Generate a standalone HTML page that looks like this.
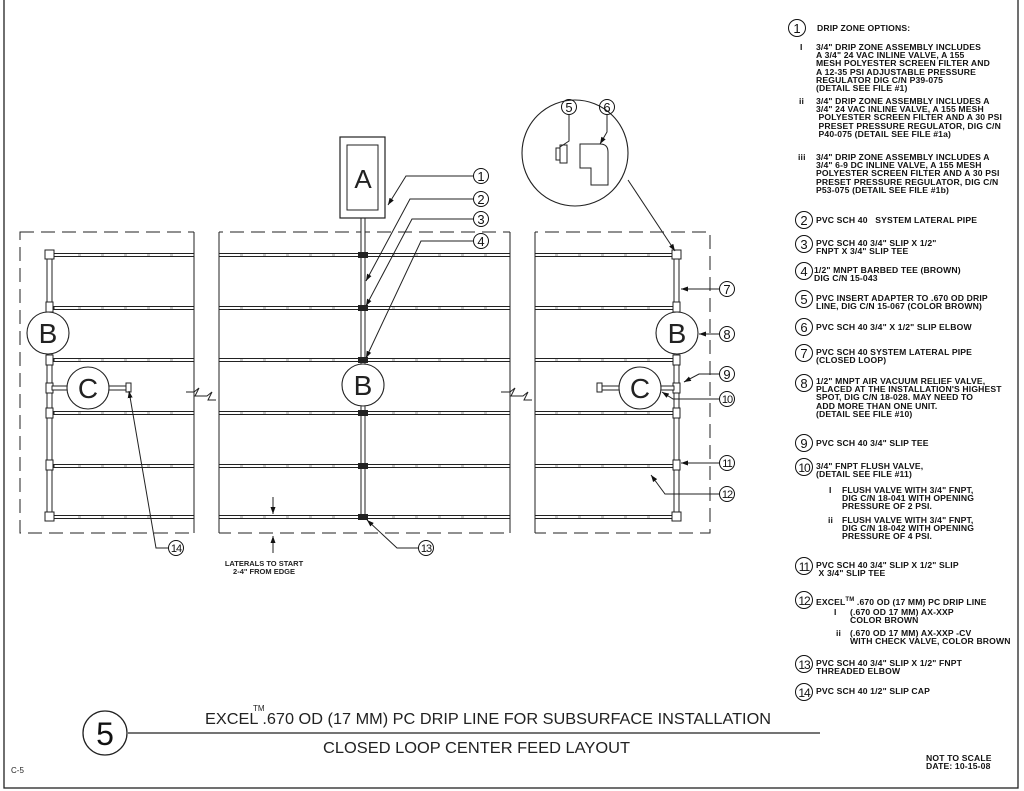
<!DOCTYPE html>
<html><head><meta charset="utf-8"><style>
body{margin:0;background:#fff;}
#w{position:relative;width:1024px;height:791px;overflow:hidden;background:#fff;font-family:"Liberation Sans",sans-serif;color:#111;}
.t{position:absolute;font-size:8.6px;line-height:8.2px;white-space:pre;font-weight:bold;letter-spacing:0.15px;transform:scaleX(1.0);transform-origin:0 0;}
.c{position:absolute;width:16px;height:16px;border:1.2px solid #111;border-radius:50%;font-size:13px;line-height:16px;text-align:center;box-sizing:border-box;}
.c2{font-size:11px;letter-spacing:-1px;}
</style></head><body><div id="w">
<svg width="1024" height="791" style="position:absolute;left:0;top:0" font-family="Liberation Sans, sans-serif">
<defs><marker id="ar" markerWidth="8" markerHeight="6" refX="7" refY="3" orient="auto" markerUnits="userSpaceOnUse"><path d="M0,0.5 L7,3 L0,5.5z" fill="#111"/></marker></defs>
<g stroke="#222" fill="none" stroke-width="1">
<rect x="4" y="-5" width="1014" height="793" stroke-width="1.3"/>
<rect x="20" y="232" width="690" height="301" stroke-dasharray="14,7"/>
<g id="lat" fill="#fff">
<rect x="54" y="253.5" width="620" height="3"/><rect x="54" y="306.5" width="620" height="3"/><rect x="54" y="358.5" width="620" height="3"/>
<rect x="54" y="411.5" width="620" height="3"/><rect x="54" y="464.5" width="620" height="3"/><rect x="54" y="515.5" width="620" height="3"/>
</g>
<rect x="47" y="253" width="5" height="266" fill="#fff"/>
<rect x="674" y="253" width="5" height="266" fill="#fff"/>
<rect x="361" y="218" width="4" height="300" fill="#fff"/>
</g>
<g fill="#fff" stroke="#777" stroke-width="0.7">
<path id="em" d="M78,255 h3 M101,255 h3 M124,255 h3 M147,255 h3 M170,255 h3 M240,255 h3 M263,255 h3 M286,255 h3 M309,255 h3 M332,255 h3 M392,255 h3 M415,255 h3 M438,255 h3 M461,255 h3 M484,255 h3 M555,255 h3 M578,255 h3 M601,255 h3 M624,255 h3 M647,255 h3"/>
<use href="#em" y="53"/><use href="#em" y="105"/><use href="#em" y="158"/><use href="#em" y="211"/><use href="#em" y="262"/>
</g>
<g fill="#222">
<rect x="358" y="252" width="10" height="6"/><rect x="358" y="305" width="10" height="6"/><rect x="358" y="357" width="10" height="6"/>
<rect x="358" y="410" width="10" height="6"/><rect x="358" y="463" width="10" height="6"/><rect x="358" y="514" width="10" height="6"/>
</g>
<g fill="#fff" stroke="#222" stroke-width="1">
<rect x="45" y="250" width="9" height="9"/><rect x="45" y="512" width="9" height="9"/><rect x="672" y="250" width="9" height="9"/><rect x="672" y="512" width="9" height="9"/>
<rect x="46" y="302" width="7" height="10"/><rect x="46" y="355" width="7" height="10"/><rect x="46" y="408" width="7" height="10"/><rect x="46" y="460" width="7" height="10"/><rect x="46" y="383" width="7" height="10"/>
<rect x="673" y="302" width="7" height="10"/><rect x="673" y="355" width="7" height="10"/><rect x="673" y="408" width="7" height="10"/><rect x="673" y="460" width="7" height="10"/><rect x="673" y="383" width="7" height="10"/>
<rect x="52" y="386" width="74" height="4"/><rect x="126" y="383" width="5" height="9"/>
<rect x="602" y="386" width="72" height="4"/><rect x="597" y="383" width="5" height="9"/>
<rect x="194" y="228" width="25" height="310" stroke="none"/>
<rect x="510" y="228" width="25" height="310" stroke="none"/>
</g>
<g stroke="#222" fill="none" stroke-width="1">
<path d="M194,232 V533 M219,232 V533 M510,232 V533 M535,232 V533"/>
<path d="M186,392 h8 l5,-4 l-4,8 h12 l5,-4 l-4,8 h8"/>
<path d="M501,392 h9 l5,-4 l-4,8 h12 l5,-4 l-4,8 h8"/>
<rect x="340" y="137" width="45" height="81" stroke-width="1.2"/><rect x="347" y="145" width="31" height="65"/>
</g>
<g fill="#fff" stroke="#222" stroke-width="1.1">
<circle cx="48" cy="333" r="21"/><circle cx="677" cy="333" r="21"/><circle cx="363" cy="385" r="21"/>
<circle cx="88" cy="388" r="21"/><circle cx="640" cy="388" r="21"/>
<circle cx="575" cy="153" r="53"/>
</g>
<g font-size="28" text-anchor="middle" fill="#222">
<text x="363" y="188" font-size="26">A</text>
<text x="48" y="343">B</text><text x="677" y="343">B</text><text x="363" y="395">B</text>
<text x="88" y="398">C</text><text x="640" y="398">C</text>
</g>
<g stroke="#222" fill="#fff" stroke-width="1">
<rect x="556" y="148" width="4" height="12"/><rect x="560" y="145" width="7" height="18"/>
<path d="M580,144 h20 q8,0 8,8 v33 h-17 v-17 h-11 z"/>
</g>
<g stroke="#222" fill="none" stroke-width="1" marker-end="url(#ar)">
<path d="M473,176 H406 L388,205"/>
<path d="M473,199 H410 L366,281"/>
<path d="M473,219 H412 L366,306"/>
<path d="M473,241 H421 L366,358"/>
<path d="M628,180 L675,251"/>
<path d="M719,289 H681"/>
<path d="M719,334 H699"/>
<path d="M719,374 H699 L684,382"/>
<path d="M719,399 H673 L662,392"/>
<path d="M719,463 H681"/>
<path d="M719,494 H665 L651,475"/>
<path d="M418,548 H397 L367,520"/>
<path d="M168,548 H156 L129,391"/>
<path d="M569,115 V141 L560,147" marker-end="none"/>
<path d="M607,115 V132 L600,144"/>
<path d="M273,497 V514"/><path d="M273,553 V536"/>
</g>
<path d="M128,733 H820" stroke="#222" stroke-width="1.2"/>
<circle cx="105" cy="733" r="22" fill="#fff" stroke="#222" stroke-width="1.3"/>
<text x="105" y="745" font-size="32" text-anchor="middle" fill="#111">5</text>
<g text-anchor="middle" fill="#222" font-size="7.5" font-weight="bold">
<text x="264" y="566">LATERALS TO START</text><text x="264" y="574">2-4" FROM EDGE</text>
</g>
<g fill="#222" font-size="16">
<text x="205" y="724" textLength="566" lengthAdjust="spacingAndGlyphs">EXCEL    .670 OD (17 MM) PC DRIP LINE FOR SUBSURFACE INSTALLATION</text>
<text x="253" y="711" font-size="8">TM</text>
<text x="323" y="753" textLength="307" lengthAdjust="spacingAndGlyphs">CLOSED LOOP CENTER FEED LAYOUT</text>
<text x="11" y="773" font-size="8">C-5</text>
</g>
</svg>
<div class="c" style="left:473px;top:168px">1</div>
<div class="c" style="left:473px;top:191px">2</div>
<div class="c" style="left:473px;top:211px">3</div>
<div class="c" style="left:473px;top:233px">4</div>
<div class="c" style="left:561px;top:99px">5</div>
<div class="c" style="left:599px;top:99px">6</div>
<div class="c" style="left:719px;top:281px">7</div>
<div class="c" style="left:719px;top:326px">8</div>
<div class="c" style="left:719px;top:366px">9</div>
<div class="c c2" style="left:719px;top:391px">10</div>
<div class="c c2" style="left:719px;top:455px">11</div>
<div class="c c2" style="left:719px;top:486px">12</div>
<div class="c c2" style="left:418px;top:540px">13</div>
<div class="c c2" style="left:168px;top:540px">14</div>
<div class="c" style="left:788px;top:19px;width:18px;height:18px;line-height:18px">1</div>
<div class="t" style="left:817px;top:24px">DRIP ZONE OPTIONS:</div>
<div class="t" style="left:800px;top:43px">I</div>
<div class="t" style="left:816px;top:43px">3/4" DRIP ZONE ASSEMBLY INCLUDES
A 3/4" 24 VAC INLINE VALVE, A 155
MESH POLYESTER SCREEN FILTER AND
A 12-35 PSI ADJUSTABLE PRESSURE
REGULATOR DIG C/N P39-075
(DETAIL SEE FILE #1)</div>
<div class="t" style="left:799px;top:97px">ii</div>
<div class="t" style="left:816px;top:97px">3/4" DRIP ZONE ASSEMBLY INCLUDES A
3/4" 24 VAC INLINE VALVE, A 155 MESH
 POLYESTER SCREEN FILTER AND A 30 PSI
 PRESET PRESSURE REGULATOR, DIG C/N
 P40-075 (DETAIL SEE FILE #1a)</div>
<div class="t" style="left:798px;top:153px">iii</div>
<div class="t" style="left:816px;top:153px">3/4" DRIP ZONE ASSEMBLY INCLUDES A
3/4" 6-9 DC INLINE VALVE, A 155 MESH
POLYESTER SCREEN FILTER AND A 30 PSI
PRESET PRESSURE REGULATOR, DIG C/N
P53-075 (DETAIL SEE FILE #1b)</div>
<div class="c" style="left:795px;top:211px;width:18px;height:18px;line-height:18px">2</div>
<div class="t" style="left:816px;top:216px">PVC SCH 40   SYSTEM LATERAL PIPE</div>
<div class="c" style="left:795px;top:235px;width:18px;height:18px;line-height:18px">3</div>
<div class="t" style="left:816px;top:239px">PVC SCH 40 3/4" SLIP X 1/2"
FNPT X 3/4" SLIP TEE</div>
<div class="c" style="left:795px;top:262px;width:18px;height:18px;line-height:18px">4</div>
<div class="t" style="left:814px;top:266px">1/2" MNPT BARBED TEE (BROWN)
DIG C/N 15-043</div>
<div class="c" style="left:795px;top:290px;width:18px;height:18px;line-height:18px">5</div>
<div class="t" style="left:816px;top:294px">PVC INSERT ADAPTER TO .670 OD DRIP
LINE, DIG C/N 15-067 (COLOR BROWN)</div>
<div class="c" style="left:795px;top:318px;width:18px;height:18px;line-height:18px">6</div>
<div class="t" style="left:816px;top:323px">PVC SCH 40 3/4" X 1/2" SLIP ELBOW</div>
<div class="c" style="left:795px;top:344px;width:18px;height:18px;line-height:18px">7</div>
<div class="t" style="left:816px;top:348px">PVC SCH 40 SYSTEM LATERAL PIPE
(CLOSED LOOP)</div>
<div class="c" style="left:795px;top:374px;width:18px;height:18px;line-height:18px">8</div>
<div class="t" style="left:816px;top:377px">1/2" MNPT AIR VACUUM RELIEF VALVE,
PLACED AT THE INSTALLATION'S HIGHEST
SPOT, DIG C/N 18-028. MAY NEED TO
ADD MORE THAN ONE UNIT.
(DETAIL SEE FILE #10)</div>
<div class="c" style="left:795px;top:434px;width:18px;height:18px;line-height:18px">9</div>
<div class="t" style="left:816px;top:439px">PVC SCH 40 3/4" SLIP TEE</div>
<div class="c c2" style="left:795px;top:458px;width:18px;height:18px;line-height:18px;font-size:12px">10</div>
<div class="t" style="left:816px;top:462px">3/4" FNPT FLUSH VALVE,
(DETAIL SEE FILE #11)</div>
<div class="t" style="left:829px;top:486px">I</div>
<div class="t" style="left:842px;top:486px">FLUSH VALVE WITH 3/4" FNPT,
DIG C/N 18-041 WITH OPENING
PRESSURE OF 2 PSI.</div>
<div class="t" style="left:828px;top:516px">ii</div>
<div class="t" style="left:842px;top:516px">FLUSH VALVE WITH 3/4" FNPT,
DIG C/N 18-042 WITH OPENING
PRESSURE OF 4 PSI.</div>
<div class="c c2" style="left:795px;top:557px;width:18px;height:18px;line-height:18px;font-size:12px">11</div>
<div class="t" style="left:816px;top:561px">PVC SCH 40 3/4" SLIP X 1/2" SLIP
 X 3/4" SLIP TEE</div>
<div class="c c2" style="left:795px;top:591px;width:18px;height:18px;line-height:18px;font-size:12px">12</div>
<div class="t" style="left:816px;top:596px">EXCEL<sup style="font-size:6px">TM</sup> .670 OD (17 MM) PC DRIP LINE</div>
<div class="t" style="left:834px;top:608px">I</div>
<div class="t" style="left:850px;top:608px">(.670 OD 17 MM) AX-XXP
COLOR BROWN</div>
<div class="t" style="left:836px;top:629px">ii</div>
<div class="t" style="left:850px;top:629px">(.670 OD 17 MM) AX-XXP -CV
WITH CHECK VALVE, COLOR BROWN</div>
<div class="c c2" style="left:795px;top:655px;width:18px;height:18px;line-height:18px;font-size:12px">13</div>
<div class="t" style="left:816px;top:659px">PVC SCH 40 3/4" SLIP X 1/2" FNPT
THREADED ELBOW</div>
<div class="c c2" style="left:795px;top:683px;width:18px;height:18px;line-height:18px;font-size:12px">14</div>
<div class="t" style="left:816px;top:687px">PVC SCH 40 1/2" SLIP CAP</div>
<div class="t" style="left:926px;top:754px">NOT TO SCALE
DATE: 10-15-08</div>
</div></body></html>
